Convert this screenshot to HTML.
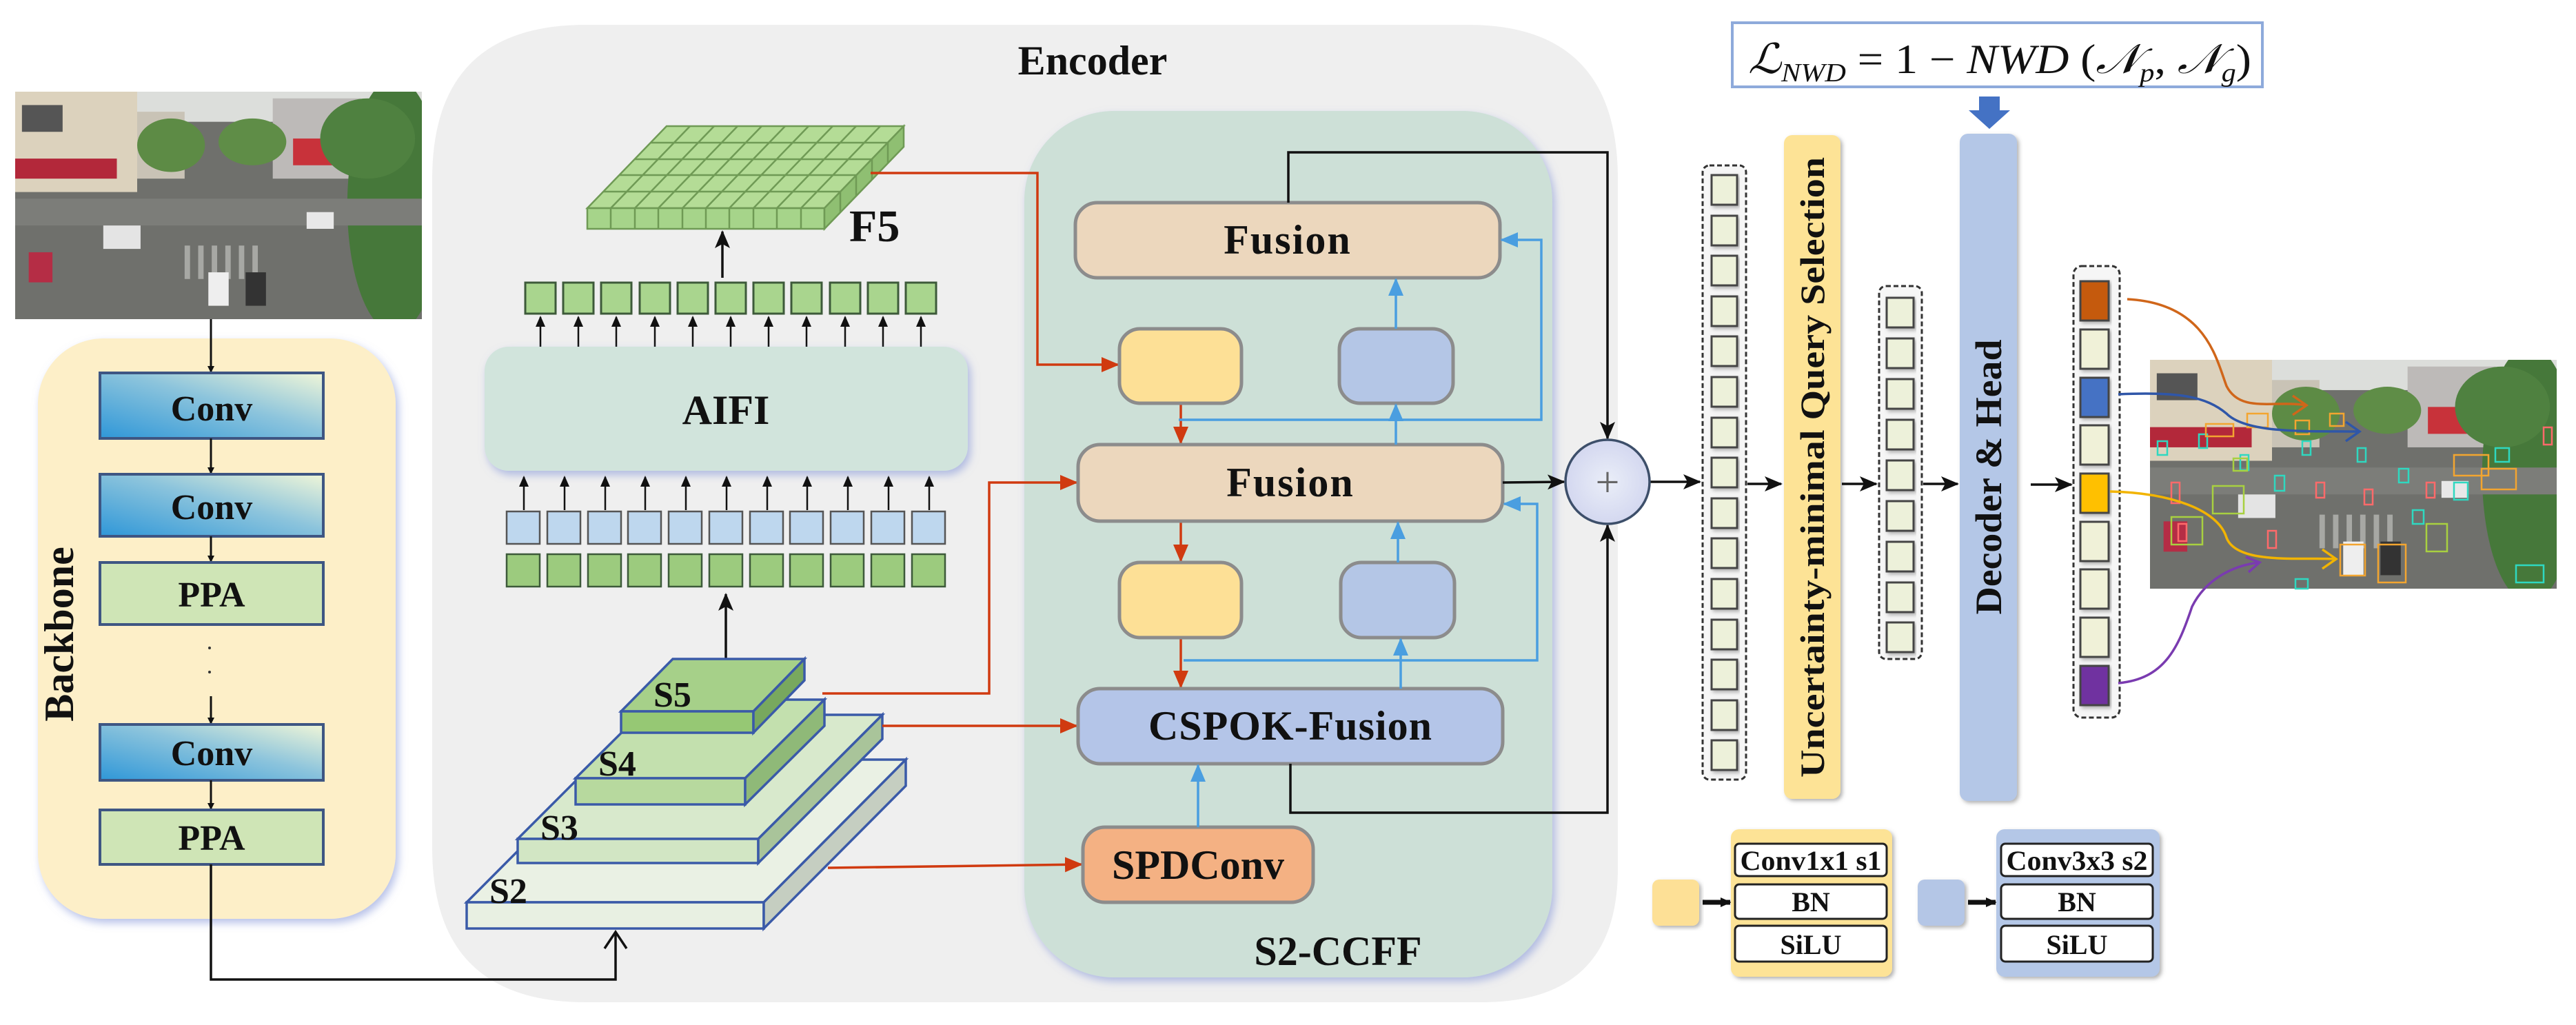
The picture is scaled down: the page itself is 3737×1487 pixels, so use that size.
<!DOCTYPE html>
<html><head><meta charset="utf-8">
<style>
html,body{margin:0;padding:0;background:#fff;}
svg{display:block;}
text{font-family:"Liberation Serif",serif;font-weight:bold;fill:#111;}
</style></head>
<body>
<svg width="3737" height="1487" viewBox="0 0 3737 1487" xmlns="http://www.w3.org/2000/svg">
<defs>
<marker id="ak" markerWidth="10" markerHeight="10" refX="8" refY="5" orient="auto" markerUnits="userSpaceOnUse" viewBox="0 0 10 10"><path d="M0,0 L10,5 L0,10 z" fill="#111"/></marker>
<marker id="akb" markerWidth="26" markerHeight="22" refX="24" refY="11" orient="auto" markerUnits="userSpaceOnUse"><path d="M0,0 L26,11 L0,22 L6,11 z" fill="#111"/></marker>
<marker id="ar" markerWidth="26" markerHeight="22" refX="24" refY="11" orient="auto" markerUnits="userSpaceOnUse"><path d="M0,0 L26,11 L0,22 z" fill="#d03a10"/></marker>
<marker id="ab" markerWidth="26" markerHeight="22" refX="24" refY="11" orient="auto" markerUnits="userSpaceOnUse"><path d="M0,0 L26,11 L0,22 z" fill="#4a9ee0"/></marker>
<marker id="as" markerWidth="16" markerHeight="14" refX="14" refY="7" orient="auto" markerUnits="userSpaceOnUse"><path d="M0,0 L16,7 L0,14 z" fill="#111"/></marker>
<linearGradient id="cg" x1="0" y1="1" x2="1" y2="0"><stop offset="0" stop-color="#2f97d8"/><stop offset="0.55" stop-color="#8cc4dc"/><stop offset="1" stop-color="#f0f6d8"/></linearGradient>
<radialGradient id="pg" cx="0.5" cy="0.5" r="0.6"><stop offset="0" stop-color="#eaeef8"/><stop offset="1" stop-color="#cfd3ee"/></radialGradient>
<filter id="sh" x="-10%" y="-10%" width="120%" height="120%"><feDropShadow dx="4" dy="6" stdDeviation="6" flood-color="#7b8fd6" flood-opacity="0.55"/></filter>
<filter id="sh2"><feDropShadow dx="3" dy="3" stdDeviation="3" flood-color="#666" flood-opacity="0.5"/></filter>
<symbol id="photo" viewBox="0 0 600 340" preserveAspectRatio="none">
<rect width="600" height="340" fill="#6f706c"/>
<rect width="600" height="45" fill="#dcdedb"/>
<rect x="0" y="0" width="180" height="150" fill="#dcd2bd"/>
<rect x="10" y="20" width="60" height="40" fill="#555"/>
<rect x="0" y="100" width="150" height="30" fill="#b3283a"/>
<rect x="180" y="30" width="70" height="100" fill="#c9c3b6"/>
<rect x="380" y="10" width="130" height="120" fill="#bdbab8"/>
<rect x="410" y="70" width="60" height="40" fill="#c8323a"/>
<ellipse cx="230" cy="80" rx="50" ry="40" fill="#5d8b45"/>
<ellipse cx="350" cy="75" rx="50" ry="35" fill="#5f8d47"/>
<ellipse cx="560" cy="170" rx="70" ry="190" fill="#46783a"/>
<ellipse cx="520" cy="70" rx="70" ry="60" fill="#4f8140"/>
<polygon points="0,160 600,160 600,200 0,200" fill="#7c7d79"/>
<g fill="#a7a8a4"><rect x="250" y="230" width="8" height="50"/><rect x="270" y="230" width="8" height="50"/><rect x="290" y="230" width="8" height="50"/><rect x="310" y="230" width="8" height="50"/><rect x="330" y="230" width="8" height="50"/><rect x="350" y="230" width="8" height="50"/></g>
<rect x="130" y="200" width="55" height="35" fill="#e4e4e4"/>
<rect x="285" y="270" width="30" height="50" fill="#eee"/>
<rect x="340" y="270" width="30" height="50" fill="#333"/>
<rect x="20" y="240" width="35" height="45" fill="#b52d45"/>
<rect x="430" y="180" width="40" height="25" fill="#e8e8e8"/>
</symbol>
</defs>

<use href="#photo" x="22" y="133" width="590" height="330"/>

<rect x="55" y="491" width="519" height="842" rx="95" fill="#fdefc8" filter="url(#sh)"/>
<text x="0" y="0" font-size="60" text-anchor="middle" transform="translate(106,920) rotate(-90)">Backbone</text>
<line x1="306" y1="463" x2="306" y2="539" stroke="#111" stroke-width="3" marker-end="url(#ak)"/>
<rect x="145" y="541" width="324" height="95" fill="url(#cg)" stroke="#3e5683" stroke-width="4"/>
<text x="307" y="610" font-size="52" text-anchor="middle">Conv</text>
<line x1="306" y1="636" x2="306" y2="686" stroke="#111" stroke-width="3" marker-end="url(#ak)"/>
<rect x="145" y="688" width="324" height="90" fill="url(#cg)" stroke="#3e5683" stroke-width="4"/>
<text x="307" y="753" font-size="52" text-anchor="middle">Conv</text>
<line x1="306" y1="778" x2="306" y2="814" stroke="#111" stroke-width="3" marker-end="url(#ak)"/>
<rect x="145" y="816" width="324" height="90" fill="#cfe5b6" stroke="#3e5683" stroke-width="4"/>
<text x="307" y="880" font-size="52" text-anchor="middle">PPA</text>
<circle cx="304" cy="940" r="2" fill="#333"/><circle cx="304" cy="975" r="2" fill="#333"/>
<line x1="306" y1="1010" x2="306" y2="1049" stroke="#111" stroke-width="3" marker-end="url(#ak)"/>
<rect x="145" y="1051" width="324" height="81" fill="url(#cg)" stroke="#3e5683" stroke-width="4"/>
<text x="307" y="1110" font-size="52" text-anchor="middle">Conv</text>
<line x1="306" y1="1132" x2="306" y2="1173" stroke="#111" stroke-width="3" marker-end="url(#ak)"/>
<rect x="145" y="1175" width="324" height="79" fill="#cfe5b6" stroke="#3e5683" stroke-width="4"/>
<text x="307" y="1233" font-size="52" text-anchor="middle">PPA</text>

<path d="M627,260 Q627,36 850,36 L2130,36 Q2347,36 2347,260 L2347,1260 Q2347,1454 2150,1454 L850,1454 Q627,1454 627,1230 Z" fill="#efefef"/>
<text x="1585" y="108" font-size="60" text-anchor="middle">Encoder</text>

<polyline points="306,1254 306,1421 893,1421 893,1354" fill="none" stroke="#111" stroke-width="3.5"/>
<path d="M877,1376 L893,1352 L909,1376" fill="none" stroke="#111" stroke-width="3.5"/>

<g stroke="#6f9a55" stroke-width="2.5">
<polygon points="852,302 967,183 1311,183 1196,302" fill="#b4dc96"/>
<rect x="852" y="302" width="344" height="30" fill="#a6d48a"/>
<polygon points="1196,302 1311,183 1311,213 1196,332" fill="#8fbf72"/>
<line x1="886" y1="302" x2="1001" y2="183"/><line x1="921" y1="302" x2="1036" y2="183"/><line x1="955" y1="302" x2="1070" y2="183"/><line x1="990" y1="302" x2="1105" y2="183"/><line x1="1024" y1="302" x2="1139" y2="183"/><line x1="1058" y1="302" x2="1173" y2="183"/><line x1="1093" y1="302" x2="1208" y2="183"/><line x1="1127" y1="302" x2="1242" y2="183"/><line x1="1162" y1="302" x2="1277" y2="183"/>
<line x1="875" y1="278" x2="1219" y2="278"/><line x1="898" y1="254" x2="1242" y2="254"/><line x1="921" y1="231" x2="1265" y2="231"/><line x1="944" y1="207" x2="1288" y2="207"/>
<line x1="886" y1="302" x2="886" y2="332"/><line x1="921" y1="302" x2="921" y2="332"/><line x1="955" y1="302" x2="955" y2="332"/><line x1="990" y1="302" x2="990" y2="332"/><line x1="1024" y1="302" x2="1024" y2="332"/><line x1="1058" y1="302" x2="1058" y2="332"/><line x1="1093" y1="302" x2="1093" y2="332"/><line x1="1127" y1="302" x2="1127" y2="332"/><line x1="1162" y1="302" x2="1162" y2="332"/>
<line x1="1219" y1="278" x2="1219" y2="308"/><line x1="1242" y1="254" x2="1242" y2="284"/><line x1="1265" y1="231" x2="1265" y2="261"/><line x1="1288" y1="207" x2="1288" y2="237"/>
</g>
<text x="1232" y="350" font-size="66">F5</text>
<line x1="1048" y1="403" x2="1048" y2="336" stroke="#111" stroke-width="3.5" marker-end="url(#akb)"/>

<g fill="#a9d58e" stroke="#3d5a3a" stroke-width="3">
<rect x="762" y="410" width="44" height="45"/><rect x="817" y="410" width="44" height="45"/><rect x="872" y="410" width="44" height="45"/><rect x="928" y="410" width="44" height="45"/><rect x="983" y="410" width="44" height="45"/><rect x="1038" y="410" width="44" height="45"/><rect x="1093" y="410" width="44" height="45"/><rect x="1148" y="410" width="44" height="45"/><rect x="1204" y="410" width="44" height="45"/><rect x="1259" y="410" width="44" height="45"/><rect x="1314" y="410" width="44" height="45"/>
</g>
<g stroke="#111" stroke-width="2.5" marker-end="url(#as)">
<line x1="784" y1="506" x2="784" y2="460"/><line x1="839" y1="506" x2="839" y2="460"/><line x1="894" y1="506" x2="894" y2="460"/><line x1="950" y1="506" x2="950" y2="460"/><line x1="1005" y1="506" x2="1005" y2="460"/><line x1="1060" y1="506" x2="1060" y2="460"/><line x1="1115" y1="506" x2="1115" y2="460"/><line x1="1170" y1="506" x2="1170" y2="460"/><line x1="1226" y1="506" x2="1226" y2="460"/><line x1="1281" y1="506" x2="1281" y2="460"/><line x1="1336" y1="506" x2="1336" y2="460"/>
</g>
<rect x="703" y="503" width="701" height="180" rx="35" fill="#d1e4dc" filter="url(#sh)"/>
<text x="1053" y="615" font-size="60" text-anchor="middle">AIFI</text>
<g stroke="#111" stroke-width="2.5" marker-end="url(#as)">
<line x1="760" y1="740" x2="760" y2="692"/><line x1="819" y1="740" x2="819" y2="692"/><line x1="878" y1="740" x2="878" y2="692"/><line x1="936" y1="740" x2="936" y2="692"/><line x1="995" y1="740" x2="995" y2="692"/><line x1="1054" y1="740" x2="1054" y2="692"/><line x1="1113" y1="740" x2="1113" y2="692"/><line x1="1171" y1="740" x2="1171" y2="692"/><line x1="1230" y1="740" x2="1230" y2="692"/><line x1="1289" y1="740" x2="1289" y2="692"/><line x1="1348" y1="740" x2="1348" y2="692"/>
</g>
<g fill="#bed7ee" stroke="#555" stroke-width="2.5">
<rect x="735" y="742" width="48" height="47"/><rect x="794" y="742" width="48" height="47"/><rect x="853" y="742" width="48" height="47"/><rect x="911" y="742" width="48" height="47"/><rect x="970" y="742" width="48" height="47"/><rect x="1029" y="742" width="48" height="47"/><rect x="1088" y="742" width="48" height="47"/><rect x="1146" y="742" width="48" height="47"/><rect x="1205" y="742" width="48" height="47"/><rect x="1264" y="742" width="48" height="47"/><rect x="1323" y="742" width="48" height="47"/>
</g>
<g fill="#9ccb7e" stroke="#3d5a3a" stroke-width="2.5">
<rect x="735" y="804" width="48" height="47"/><rect x="794" y="804" width="48" height="47"/><rect x="853" y="804" width="48" height="47"/><rect x="911" y="804" width="48" height="47"/><rect x="970" y="804" width="48" height="47"/><rect x="1029" y="804" width="48" height="47"/><rect x="1088" y="804" width="48" height="47"/><rect x="1146" y="804" width="48" height="47"/><rect x="1205" y="804" width="48" height="47"/><rect x="1264" y="804" width="48" height="47"/><rect x="1323" y="804" width="48" height="47"/>
</g>
<line x1="1053" y1="968" x2="1053" y2="862" stroke="#111" stroke-width="3.5" marker-end="url(#akb)"/>

<g stroke="#3a5aa8" stroke-width="3.5">
<polygon points="677,1309 883,1102 1314,1102 1108,1309" fill="#eaf1e4"/>
<rect x="677" y="1309" width="431" height="38" fill="#e8f0e2"/>
<polygon points="1108,1309 1314,1102 1314,1140 1108,1347" fill="#c5cec1"/>
<polygon points="751,1217 931,1037 1280,1037 1100,1217" fill="#d8e9cc"/>
<rect x="751" y="1217" width="349" height="35" fill="#d2e6c4"/>
<polygon points="1100,1217 1280,1037 1280,1072 1100,1252" fill="#a9c49a"/>
<polygon points="835,1129 950,1015 1196,1015 1081,1129" fill="#c3e0ae"/>
<rect x="835" y="1129" width="246" height="38" fill="#b7d99e"/>
<polygon points="1081,1129 1196,1015 1196,1053 1081,1167" fill="#8fb978"/>
<polygon points="901,1032 976,956 1167,956 1093,1032" fill="#a6d089"/>
<rect x="901" y="1032" width="192" height="31" fill="#96c874"/>
<polygon points="1093,1032 1167,956 1167,987 1093,1063" fill="#78a85e"/>
</g>
<text x="948" y="1025" font-size="52">S5</text>
<text x="868" y="1125" font-size="52">S4</text>
<text x="784" y="1218" font-size="52">S3</text>
<text x="710" y="1310" font-size="52">S2</text>

<rect x="1486" y="161" width="766" height="1257" rx="130" fill="#cde0d7" filter="url(#sh)"/>
<text x="1941" y="1400" font-size="60" text-anchor="middle">S2-CCFF</text>

<g fill="none" stroke="#d03a10" stroke-width="3.5">
<polyline points="1263,251 1505,251 1505,529 1622,529" marker-end="url(#ar)"/>
<polyline points="1193,1006 1435,1006 1435,700 1562,700" marker-end="url(#ar)"/>
<polyline points="1280,1053 1562,1053" marker-end="url(#ar)"/>
<polyline points="1201,1259 1569,1254" marker-end="url(#ar)"/>
<line x1="1713" y1="585" x2="1713" y2="643" marker-end="url(#ar)"/>
<line x1="1713" y1="756" x2="1713" y2="814" marker-end="url(#ar)"/>
<line x1="1713" y1="925" x2="1713" y2="997" marker-end="url(#ar)"/>
</g>

<g stroke="#8c8c8c" stroke-width="5">
<rect x="1560" y="294" width="616" height="109" rx="32" fill="#ecd7bd"/>
<rect x="1624" y="477" width="177" height="108" rx="30" fill="#fde096"/>
<rect x="1943" y="477" width="165" height="108" rx="30" fill="#b4c6e6"/>
<rect x="1564" y="645" width="616" height="111" rx="32" fill="#ecd7bd"/>
<rect x="1624" y="816" width="177" height="109" rx="30" fill="#fde096"/>
<rect x="1945" y="816" width="165" height="109" rx="30" fill="#b4c6e6"/>
<rect x="1564" y="999" width="616" height="109" rx="32" fill="#b4c5e8"/>
<rect x="1571" y="1200" width="334" height="109" rx="32" fill="#f4b183"/>
</g>
<text x="1868" y="368" font-size="60" text-anchor="middle" letter-spacing="2">Fusion</text>
<text x="1872" y="720" font-size="60" text-anchor="middle" letter-spacing="2">Fusion</text>
<text x="1872" y="1073" font-size="60" text-anchor="middle" letter-spacing="1">CSPOK-Fusion</text>
<text x="1738" y="1275" font-size="60" text-anchor="middle">SPDConv</text>

<g fill="none" stroke="#4a9ee0" stroke-width="3.5">
<line x1="2025" y1="477" x2="2025" y2="405" marker-end="url(#ab)"/>
<line x1="2025" y1="645" x2="2025" y2="587" marker-end="url(#ab)"/>
<polyline points="1710,609 2236,609 2236,348 2178,348" marker-end="url(#ab)"/>
<line x1="2028" y1="816" x2="2028" y2="758" marker-end="url(#ab)"/>
<line x1="2032" y1="999" x2="2032" y2="927" marker-end="url(#ab)"/>
<polyline points="1717,958 2230,958 2230,731 2182,731" marker-end="url(#ab)"/>
<line x1="1738" y1="1200" x2="1738" y2="1110" marker-end="url(#ab)"/>
</g>

<g fill="none" stroke="#111" stroke-width="3.5">
<polyline points="1869,294 1869,221 2332,221 2332,636" marker-end="url(#akb)"/>
<polyline points="1872,1108 1872,1179 2332,1179 2332,762" marker-end="url(#akb)"/>
<line x1="2180" y1="700" x2="2269" y2="699" marker-end="url(#akb)"/>
<line x1="2393" y1="699" x2="2466" y2="699" marker-end="url(#akb)"/>
</g>
<ellipse cx="2332" cy="699" rx="61" ry="61" fill="url(#pg)" stroke="#3d4f6a" stroke-width="3.5"/>
<text x="2332" y="720" font-size="62" text-anchor="middle" style="font-weight:normal;fill:#666">+</text>

<rect x="2513" y="33" width="769" height="93" fill="#fff" stroke="#8eaadb" stroke-width="4"/>
<text x="2536" y="106" font-size="60" style="font-weight:normal;font-style:italic" textLength="730" lengthAdjust="spacingAndGlyphs">ℒ<tspan font-size="38" dy="12">NWD</tspan><tspan dy="-12" font-style="normal"> = 1 − </tspan>NWD<tspan font-style="normal"> (</tspan>𝒩<tspan font-size="38" dy="12">p</tspan><tspan dy="-12" font-style="normal">, </tspan>𝒩<tspan font-size="38" dy="12">g</tspan><tspan dy="-12" font-style="normal">)</tspan></text>
<path d="M2871,140 L2901,140 L2901,160 L2916,160 L2886,187 L2856,160 L2871,160 Z" fill="#4472c4"/>

<rect x="2470" y="240" width="63" height="891" rx="10" fill="#f6f6f6" stroke="#333" stroke-width="3" stroke-dasharray="7,4"/>
<g fill="#edf1da" stroke="#444" stroke-width="3" filter="url(#sh2)">
<rect x="2483" y="254" width="37" height="43"/><rect x="2483" y="313" width="37" height="43"/><rect x="2483" y="371" width="37" height="43"/><rect x="2483" y="430" width="37" height="43"/><rect x="2483" y="488" width="37" height="43"/><rect x="2483" y="547" width="37" height="43"/><rect x="2483" y="606" width="37" height="43"/><rect x="2483" y="664" width="37" height="43"/><rect x="2483" y="723" width="37" height="43"/><rect x="2483" y="781" width="37" height="43"/><rect x="2483" y="840" width="37" height="43"/><rect x="2483" y="899" width="37" height="43"/><rect x="2483" y="957" width="37" height="43"/><rect x="2483" y="1016" width="37" height="43"/><rect x="2483" y="1074" width="37" height="43"/>
</g>
<line x1="2535" y1="702" x2="2584" y2="702" stroke="#111" stroke-width="3.5" marker-end="url(#akb)"/>
<rect x="2588" y="196" width="82" height="963" rx="12" fill="#fde396" filter="url(#sh2)"/>
<text x="0" y="0" font-size="50" text-anchor="middle" transform="translate(2646,678) rotate(-90)" textLength="900" lengthAdjust="spacingAndGlyphs">Uncertainty-minimal Query Selection</text>
<line x1="2672" y1="702" x2="2722" y2="702" stroke="#111" stroke-width="3.5" marker-end="url(#akb)"/>

<rect x="2726" y="415" width="62" height="541" rx="10" fill="#f6f6f6" stroke="#333" stroke-width="3" stroke-dasharray="7,4"/>
<g fill="#edf1da" stroke="#444" stroke-width="3" filter="url(#sh2)">
<rect x="2737" y="432" width="39" height="43"/><rect x="2737" y="491" width="39" height="43"/><rect x="2737" y="550" width="39" height="43"/><rect x="2737" y="609" width="39" height="43"/><rect x="2737" y="668" width="39" height="43"/><rect x="2737" y="727" width="39" height="43"/><rect x="2737" y="786" width="39" height="43"/><rect x="2737" y="845" width="39" height="43"/><rect x="2737" y="903" width="39" height="43"/>
</g>
<line x1="2790" y1="702" x2="2840" y2="702" stroke="#111" stroke-width="3.5" marker-end="url(#akb)"/>
<rect x="2843" y="194" width="83" height="968" rx="12" fill="#b4c7e7" filter="url(#sh2)"/>
<text x="0" y="0" font-size="54" text-anchor="middle" transform="translate(2903,692) rotate(-90)" textLength="399" lengthAdjust="spacingAndGlyphs">Decoder &amp; Head</text>
<line x1="2946" y1="703" x2="3005" y2="703" stroke="#111" stroke-width="3.5" marker-end="url(#akb)"/>

<rect x="3008" y="386" width="67" height="655" rx="12" fill="#f6f6f6" stroke="#333" stroke-width="3" stroke-dasharray="7,4"/>
<g stroke="#444" stroke-width="3" filter="url(#sh2)">
<rect x="3018" y="408" width="41" height="57" fill="#c55a11"/>
<rect x="3018" y="478" width="41" height="57" fill="#f0f1d8"/>
<rect x="3018" y="548" width="41" height="57" fill="#4472c4"/>
<rect x="3018" y="617" width="41" height="57" fill="#f0f1d8"/>
<rect x="3018" y="687" width="41" height="57" fill="#ffc000"/>
<rect x="3018" y="757" width="41" height="57" fill="#f0f1d8"/>
<rect x="3018" y="826" width="41" height="57" fill="#f0f1d8"/>
<rect x="3018" y="896" width="41" height="57" fill="#f0f1d8"/>
<rect x="3018" y="966" width="41" height="57" fill="#7030a0"/>
</g>

<use href="#photo" x="3119" y="522" width="590" height="332"/>
<g fill="none" stroke-width="2.5">
<g stroke="#2fd8c0"><rect x="3130" y="640" width="14" height="20"/><rect x="3190" y="630" width="12" height="20"/><rect x="3250" y="660" width="12" height="22"/><rect x="3300" y="690" width="14" height="22"/><rect x="3340" y="640" width="12" height="20"/><rect x="3420" y="650" width="12" height="20"/><rect x="3480" y="680" width="14" height="20"/><rect x="3560" y="700" width="20" height="25"/><rect x="3620" y="650" width="20" height="20"/><rect x="3650" y="820" width="40" height="25"/><rect x="3330" y="840" width="18" height="14"/><rect x="3500" y="740" width="16" height="20"/></g>
<g stroke="#f3a530"><rect x="3200" y="615" width="40" height="18"/><rect x="3260" y="600" width="30" height="20"/><rect x="3395" y="790" width="36" height="45"/><rect x="3450" y="790" width="40" height="55"/><rect x="3330" y="610" width="20" height="20"/><rect x="3380" y="600" width="20" height="18"/><rect x="3560" y="660" width="50" height="30"/><rect x="3600" y="680" width="50" height="30"/></g>
<g stroke="#ff6a6a"><rect x="3150" y="700" width="12" height="30"/><rect x="3160" y="760" width="12" height="25"/><rect x="3290" y="770" width="12" height="25"/><rect x="3360" y="700" width="12" height="22"/><rect x="3430" y="710" width="12" height="22"/><rect x="3520" y="700" width="12" height="22"/><rect x="3690" y="620" width="12" height="25"/></g>
<g stroke="#a8d040"><rect x="3210" y="705" width="45" height="40"/><rect x="3150" y="750" width="45" height="40"/><rect x="3240" y="665" width="20" height="18"/><rect x="3520" y="760" width="30" height="40"/></g>
</g>
<g fill="none" stroke-width="3.5">
<path d="M3086,434 C3200,440 3215,520 3230,560 C3250,600 3300,580 3346,588" stroke="#d0661a"/>
<path d="M3326,574 L3346,588 L3326,602" stroke="#d0661a"/>
<path d="M3073,572 C3160,568 3200,575 3230,600 C3260,630 3350,625 3423,626" stroke="#2f56a8"/>
<path d="M3403,612 L3423,626 L3403,640" stroke="#2f56a8"/>
<path d="M3061,713 C3150,715 3218,740 3230,780 C3245,820 3340,808 3389,811" stroke="#f2b400"/>
<path d="M3369,797 L3389,811 L3369,825" stroke="#f2b400"/>
<path d="M3073,991 C3140,985 3160,940 3180,880 C3200,840 3240,820 3278,816" stroke="#7a3bb0"/>
<path d="M3258,808 L3278,816 L3262,830" stroke="#7a3bb0"/>
</g>

<rect x="2397" y="1276" width="68" height="67" rx="10" fill="#fde096" filter="url(#sh2)"/>
<line x1="2470" y1="1309" x2="2510" y2="1309" stroke="#111" stroke-width="7" marker-end="url(#as)"/>
<rect x="2511" y="1203" width="234" height="214" rx="12" fill="#fde396" filter="url(#sh2)"/>
<g fill="#fff" stroke="#222" stroke-width="3">
<rect x="2517" y="1224" width="220" height="47" rx="6"/><rect x="2517" y="1283" width="220" height="50" rx="6"/><rect x="2517" y="1343" width="220" height="52" rx="6"/>
</g>
<text x="2627" y="1262" font-size="40" text-anchor="middle" textLength="205" lengthAdjust="spacingAndGlyphs">Conv1x1 s1</text>
<text x="2627" y="1322" font-size="40" text-anchor="middle">BN</text>
<text x="2627" y="1384" font-size="40" text-anchor="middle">SiLU</text>

<rect x="2782" y="1276" width="68" height="67" rx="10" fill="#b4c6e6" filter="url(#sh2)"/>
<line x1="2855" y1="1309" x2="2895" y2="1309" stroke="#111" stroke-width="7" marker-end="url(#as)"/>
<rect x="2896" y="1203" width="237" height="214" rx="12" fill="#b4c7e7" filter="url(#sh2)"/>
<g fill="#fff" stroke="#222" stroke-width="3">
<rect x="2903" y="1224" width="220" height="47" rx="6"/><rect x="2903" y="1283" width="220" height="50" rx="6"/><rect x="2903" y="1343" width="220" height="52" rx="6"/>
</g>
<text x="3013" y="1262" font-size="40" text-anchor="middle" textLength="205" lengthAdjust="spacingAndGlyphs">Conv3x3 s2</text>
<text x="3013" y="1322" font-size="40" text-anchor="middle">BN</text>
<text x="3013" y="1384" font-size="40" text-anchor="middle">SiLU</text>
</svg>
</body></html>
